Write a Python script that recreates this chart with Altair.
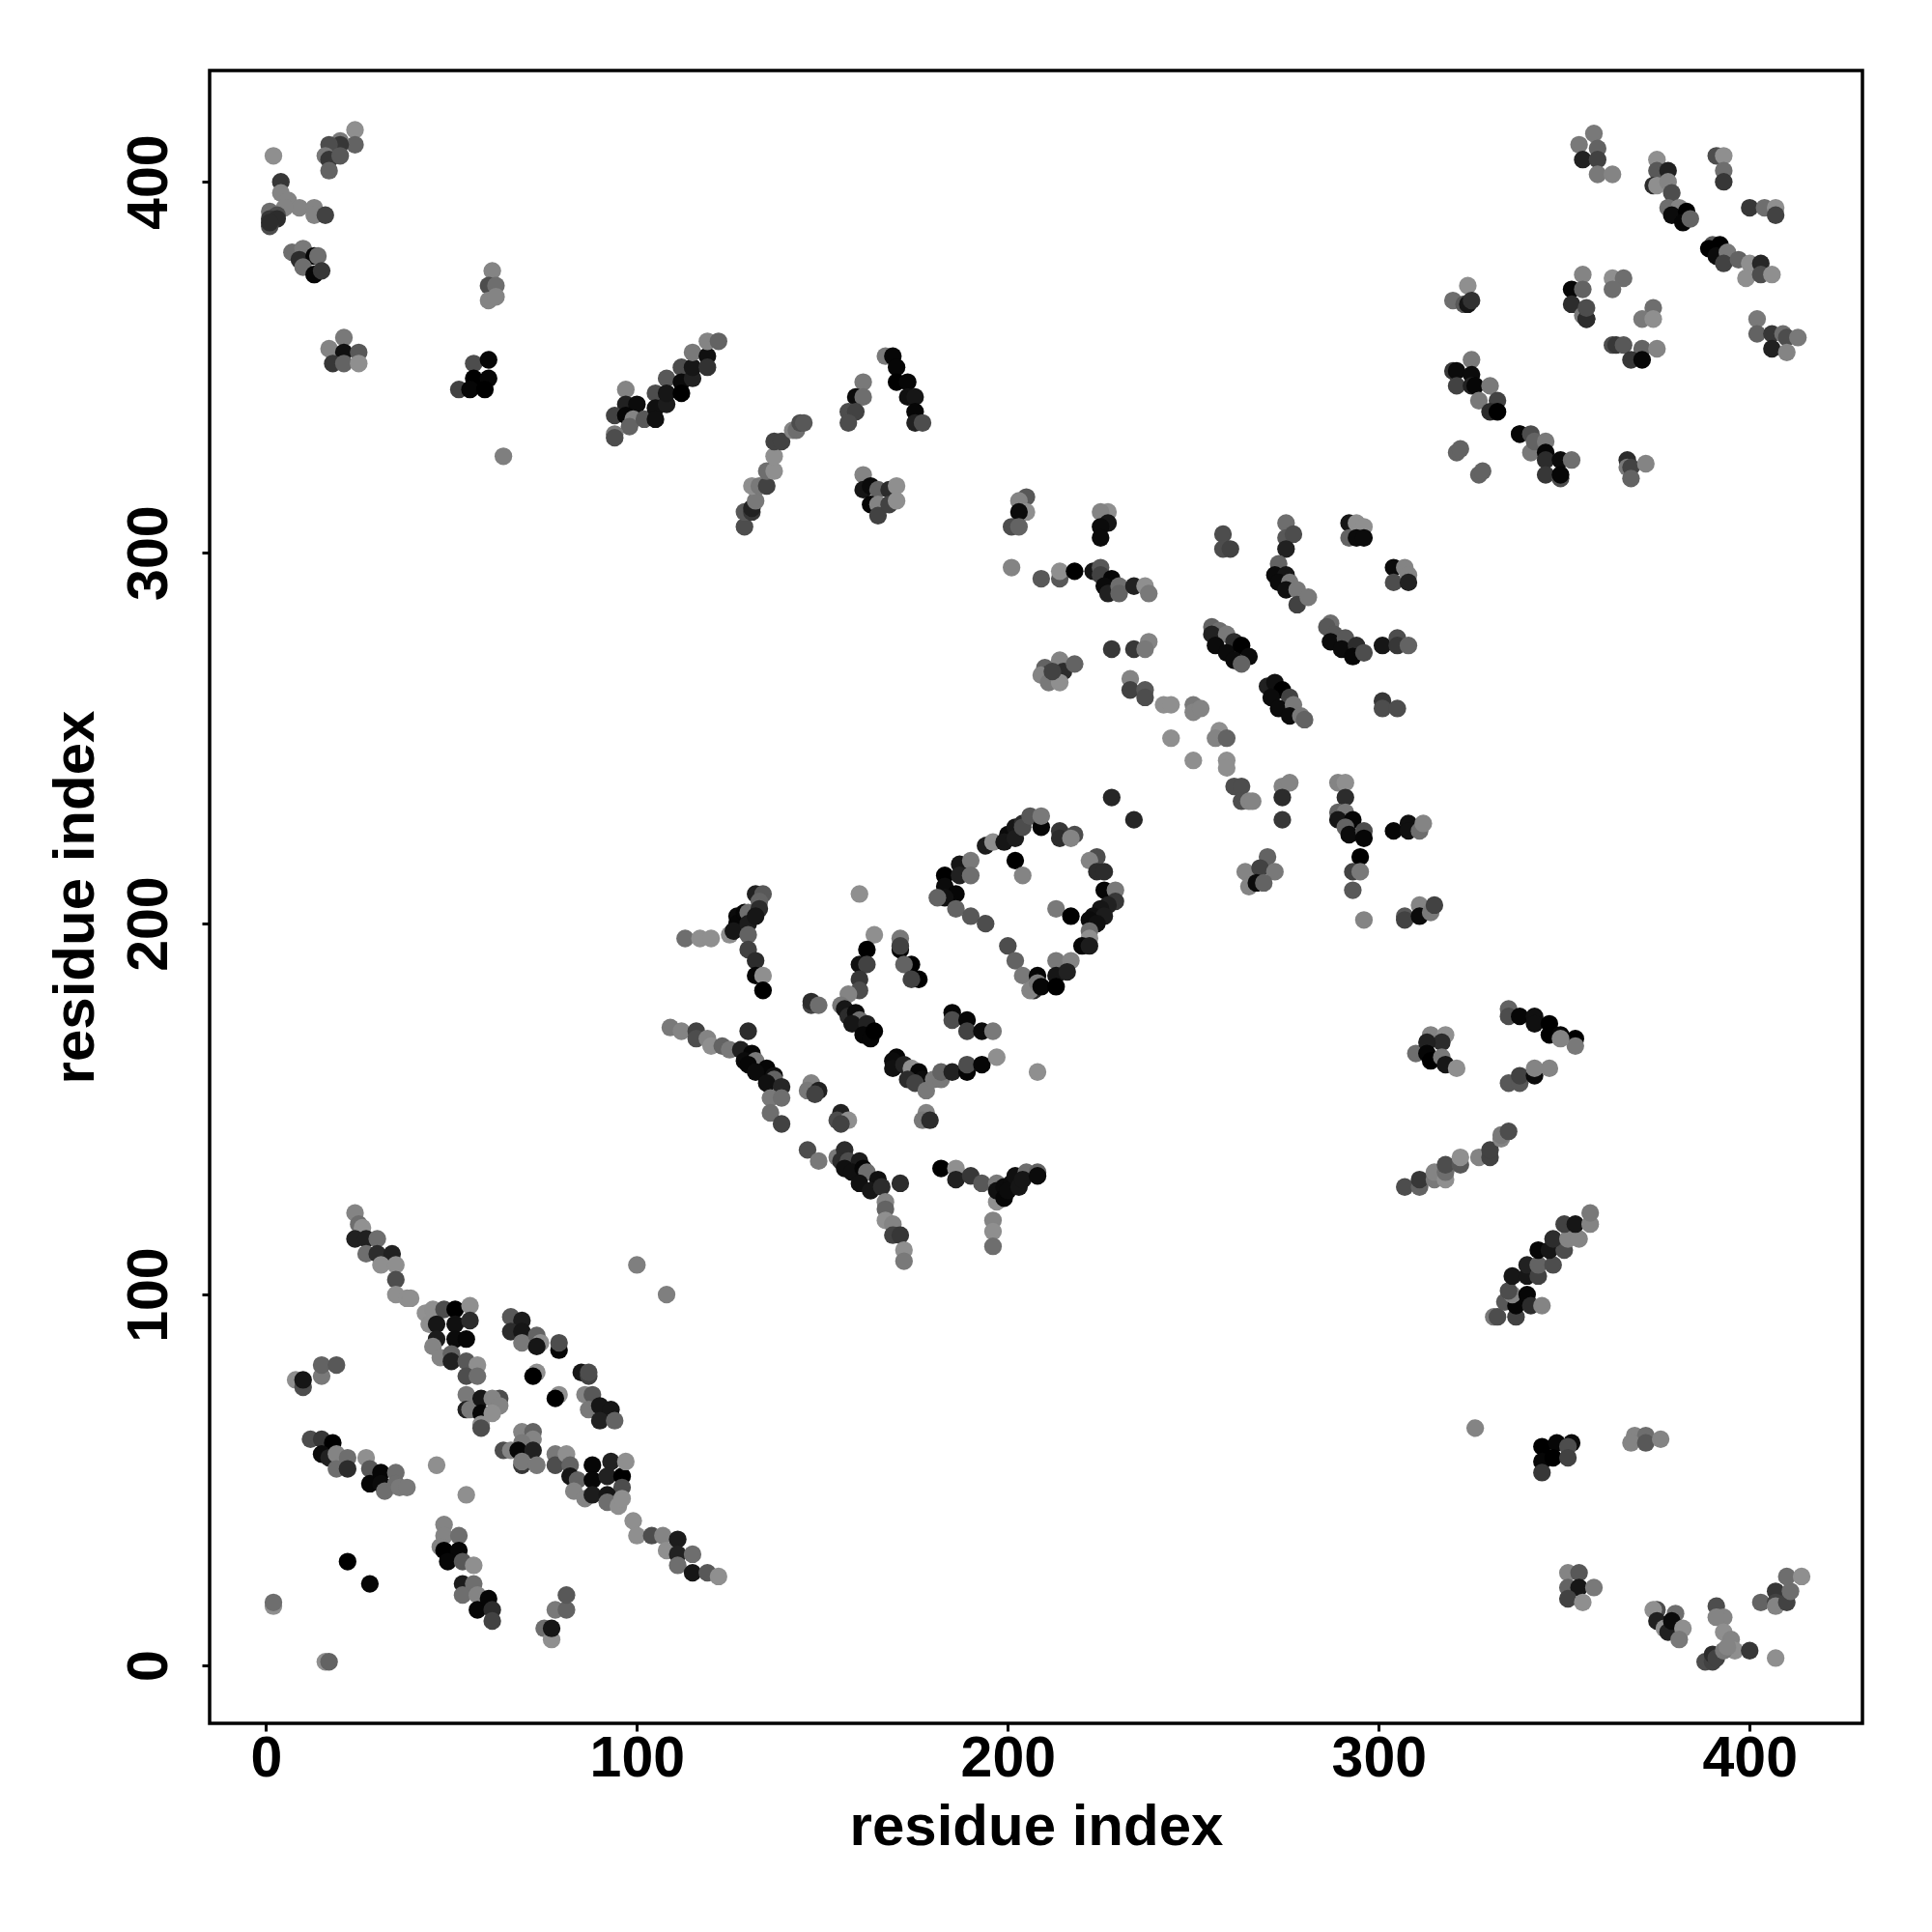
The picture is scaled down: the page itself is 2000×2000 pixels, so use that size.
import altair as alt
import pandas as pd

# every cluster: (residue x, residue y, grey level 0-255)
low_left_a = [(24,122,120),(25,119,100),(26,118,140),(24,115,30),(27,115,30),(30,115,100),(27,111,100),(30,111,40),(34,111,30),(31,108,130),(35,108,130),(35,104,70),(35,100,130),(38,99,130),(39,99,130)]
low_left_b = [(43,95,140),(44,92,130),(45,96,130),(48,96,70),(51,96,0),(55,97,130),(46,92,20),(51,92,15),(55,93,40),(46,88,25),(51,88,10),(54,88,5),(45,86,120),(47,83,120),(50,84,90),(50,82,30),(54,82,80),(57,81,130),(54,78,70),(57,78,100)]
low_left_c = [(54,73,110),(54,69,30),(55,69,110),(58,72,20),(58,68,5),(58,65,130),(58,64,70),(63,72,70),(61,72,120),(63,70,120),(61,68,130)]
low_left_d = [(64,58,70),(66,58,120),(69,63,120),(72,63,90),(72,61,120),(69,60,110),(68,58,5),(72,58,30),(69,54,50),(69,55,110),(73,54,110)]
low_left_e = [(78,57,110),(78,54,70),(81,57,130),(82,54,90),(82,51,20),(84,50,90),(83,47,120),(86,45,120),(88,54,5),(88,50,5),(88,46,25),(93,55,30),(92,51,30),(96,51,0),(97,55,130),(96,48,70),(92,46,20),(92,44,100),(95,43,130),(96,45,130)]
low_left_f = [(99,39,130),(100,35,130),(104,35,70),(107,35,120),(108,31,130),(111,34,25),(111,30,30),(111,27,100),(115,30,100),(115,25,20),(119,25,80),(122,24,130)]
low_left_g = [(8,77,130),(10,75,70),(10,77,20),(15,78,110),(15,81,90),(19,81,80)]
low_left_h = [(12,61,70),(15,61,50),(18,60,0),(15,57,10),(17,56,30),(19,57,120),(19,53,100),(22,56,100),(22,53,40),(27,56,130),(28,53,80),(28,49,5),(31,52,5),(31,49,10),(32,47,100),(35,52,100),(35,49,100),(36,48,110),(38,48,110),(46,54,130),(54,46,130)]
low_left_i = [(48,38,120),(48,35,120),(52,35,100),(47,32,120),(48,31,0),(52,31,5),(49,28,5),(53,28,80),(56,27,130),(53,22,25),(53,19,100),(56,22,100),(57,19,120),(57,15,5),(60,18,5),(61,15,40),(61,12,60)]
low_left_j = [(75,10,100),(77,7,130),(77,10,20),(78,15,110),(81,15,90),(81,19,80),(22,28,0),(28,22,5),(2,16,130),(2,17,100),(16,1,130),(17,1,90),(100,108,115),(108,100,115)]
low_left_k = [(66,94,80),(69,93,25),(66,90,40),(69,90,20),(69,87,110),(73,89,90),(74,87,130),(73,86,20),(79,85,5),(79,87,70),(73,79,130),(72,78,0),(79,73,130),(78,72,0),(85,79,20),(87,78,60),(87,79,70),(86,73,120),(88,73,80),(87,69,110),(90,70,20),(93,69,20),(90,66,30),(94,66,90)]

mid_a = [(113,196,100),(117,196,130),(120,196,130),(125,197,130),(127,202,10),(127,200,5),(129,203,5),(126,198,20),(130,203,100),(130,200,25),(130,197,90),(132,208,30),(134,208,80),(133,206,90),(133,204,40),(132,202,20),(130,193,60),(132,190,40),(132,186,5),(134,186,130),(134,182,0)]
mid_b = [(160,208,130),(164,197,130),(171,196,110),(162,193,0),(160,189,15),(162,189,60),(160,185,50),(160,182,70),(157,181,120),(171,193,5),(171,194,60),(174,189,0),(172,189,90),(176,185,0),(174,185,60)]
mid_c = [(147,178,60),(147,179,40),(149,178,100),(155,178,110),(156,177,20),(157,175,40),(159,176,10),(160,174,100),(158,173,20),(162,173,30),(161,170,5),(163,169,5),(164,171,0),(185,176,5),(185,174,70),(189,174,5),(189,171,60),(193,171,10),(196,171,110)]
mid_d = [(170,164,5),(169,163,10),(169,161,15),(172,162,30),(174,161,130),(176,160,5),(173,158,40),(177,158,10),(175,157,60),(178,155,110),(180,158,110),(182,158,110),(182,160,90),(185,160,30),(189,160,5),(189,162,70),(193,162,5),(197,164,130),(208,160,130)]
mid_e = [(109,172,110),(112,171,120),(116,171,60),(116,169,70),(119,169,120),(120,167,130),(123,167,90),(125,166,110),(130,171,40),(128,166,30),(131,165,5),(129,163,10),(132,163,110),(130,162,5),(135,161,5),(132,160,10),(137,159,15),(137,158,90),(135,157,15),(139,156,35),(136,153,110),(139,153,100),(136,149,100),(139,146,60),(147,157,120),(146,155,110),(149,155,30),(148,154,60)]
mid_f = [(155,149,30),(154,147,70),(157,147,130),(155,146,60),(178,149,120),(177,147,110),(179,147,40),(146,139,70),(149,136,110),(154,137,110),(156,139,40),(155,136,40),(157,136,70),(156,134,15),(160,136,25),(158,133,15),(161,134,5),(162,133,100),(160,130,15),(165,131,15),(163,128,20),(166,129,40),(167,125,120),(167,123,90),(167,120,130),(169,119,120),(171,130,40),(169,116,60),(171,116,50),(172,112,130),(172,109,110)]
mid_g = [(182,134,0),(186,134,130),(186,131,30),(190,132,50),(193,130,80),(197,130,110),(197,125,130),(197,128,15),(199,129,10),(199,126,5),(201,130,10),(200,128,10),(202,132,15),(203,129,20),(205,133,100),(204,131,20),(208,133,90),(208,132,10),(196,120,120),(196,117,130),(196,113,100)]
ring_top = [(228,234,35),(234,228,35),(194,221,25),(196,222,130),(200,224,10),(199,222,20),(202,226,20),(202,223,25),(204,227,40),(204,226,70),(206,229,80),(209,226,5),(209,229,110),(214,225,50),(214,223,40),(218,224,70),(217,223,120),(202,217,0),(204,213,120),(224,218,70),(222,217,120),(224,214,40),(226,214,40)]
ring_right = [(213,204,110),(217,202,0),(226,209,5),(229,209,110),(229,206,50),(227,205,30),(225,204,20),(223,202,15),(226,202,25),(222,201,10),(224,200,15),(222,198,100),(222,196,130),(220,194,5),(222,194,25)]
ring_left = [(183,213,0),(183,210,10),(187,216,20),(187,213,30),(190,217,110),(190,213,100),(186,208,5),(183,207,15),(181,207,90),(186,204,90),(190,202,80),(194,200,70)]
ring_low = [(200,194,70),(202,190,90),(204,186,110),(208,186,5),(207,182,40),(206,182,120),(208,184,110),(209,183,5),(213,190,110),(217,190,120),(213,186,20),(216,187,30),(213,183,0)]

up_a = [(205,315,80),(203,314,120),(205,311,130),(203,311,10),(201,307,70),(203,307,90),(201,296,120),(209,293,80),(214,293,80),(214,295,130),(218,295,0),(227,311,130),(225,311,120),(227,308,20),(225,307,10),(225,304,10)]
up_b = [(223,295,20),(225,296,80),(225,294,60),(228,293,5),(226,291,10),(227,289,30),(230,291,100),(230,289,90),(234,291,30),(237,291,130),(238,289,110)]
up_c = [(258,305,70),(258,301,70),(260,301,60),(275,308,100),(275,304,80),(277,305,70),(275,301,30),(273,297,90),(272,294,10),(275,294,20),(273,292,10),(276,292,110),(275,290,15),(278,290,110),(278,286,60),(281,288,110)]
up_d = [(292,308,20),(292,304,90),(294,308,130),(296,307,130),(294,304,10),(296,304,10),(304,296,10),(304,292,70),(307,296,120),(308,294,120),(308,292,30)]
up_e = [(255,280,90),(257,279,100),(255,278,30),(259,278,110),(256,275,10),(261,276,40),(259,273,10),(263,275,0),(261,271,10),(265,272,10),(263,270,90)]
up_f = [(287,281,100),(286,280,80),(288,278,80),(287,276,10),(291,277,80),(290,274,10),(294,275,40),(293,272,5),(296,273,70),(301,275,20),(305,277,70),(305,275,50),(308,275,90)]
up_g = [(214,271,120),(210,269,90),(215,268,40),(218,270,90),(210,267,10),(209,267,120),(211,265,110),(214,265,130),(212,268,60),(228,274,50),(234,274,50),(238,276,120),(237,274,110)]
up_h = [(233,266,120),(233,263,60),(237,263,80),(237,261,70),(242,259,130),(244,259,130),(250,259,110),(250,257,120),(252,258,120),(270,264,30),(272,265,15),(274,263,0),(271,261,10),(276,261,60),(273,258,10),(277,259,110),(276,256,10),(279,256,110),(280,255,90),(301,260,50),(301,258,70),(305,258,70)]
up_i = [(244,250,130),(257,252,130),(256,250,120),(259,250,90),(250,244,130),(259,244,130),(259,242,130),(261,237,70),(263,237,70),(263,233,70),(265,233,120),(266,233,120),(274,237,120),(276,238,120),(274,234,40),(274,228,50)]
up_j = [(289,238,120),(291,238,130),(291,234,40),(289,230,90),(291,230,110),(289,228,20),(293,228,5),(291,226,90),(292,224,10),(296,225,70),(296,223,5),(295,218,0),(293,214,60),(295,214,110),(293,209,80),(296,201,120)]
up_k = [(304,225,5),(308,227,15),(308,225,15),(311,225,100),(312,227,120),(270,218,90),(264,214,120),(268,215,60),(272,214,110),(265,210,120),(267,211,10),(269,211,90),(307,202,80),(307,201,60),(311,205,120),(311,202,10),(314,203,110),(315,205,60)]

top_right_a = [(358,413,110),(354,410,110),(359,409,90),(355,406,30),(359,406,60),(359,402,110),(363,402,120),(375,406,130),(375,403,80),(378,403,30),(374,399,40),(375,399,130),(378,400,120),(379,397,70),(378,393,100),(381,393,120),(379,391,10),(383,392,0),(382,389,5),(384,390,90)]
top_right_b = [(391,407,70),(393,407,130),(393,403,100),(393,400,50),(400,393,50),(404,393,100),(407,393,130),(407,391,60),(390,383,80),(389,382,0),(392,383,0),(391,380,10),(394,381,110),(393,378,60),(397,379,90),(400,378,130),(403,378,35),(399,374,130),(403,375,70),(406,375,130)]
top_right_c = [(355,375,120),(352,371,5),(355,371,90),(352,367,40),(355,364,110),(356,363,10),(356,363,40),(356,366,70),(363,374,130),(366,374,100),(363,371,100),(374,366,100),(371,363,110),(374,363,130),(402,363,110),(402,359,90),(406,359,50),(409,359,100),(410,358,70),(413,358,110),(406,355,30),(410,354,120)]
top_right_d = [(363,356,70),(364,356,50),(366,356,80),(371,355,90),(375,355,120),(368,352,50),(371,352,5),(324,372,130),(320,368,100),(323,367,80),(324,367,20),(325,368,45)]
top_right_e = [(325,352,110),(320,349,50),(321,349,10),(325,348,10),(321,345,60),(325,345,30),(326,345,5),(330,345,110),(327,341,110),(332,341,60),(330,338,40),(332,338,0)]
top_right_f = [(338,332,50),(338,332,5),(341,332,70),(341,327,110),(342,330,90),(345,330,110),(345,327,5),(345,325,40),(345,321,50),(349,325,10),(349,320,70),(349,321,5),(352,325,100),(321,327,90),(322,328,90),(327,321,90),(328,322,90),(367,325,40),(367,323,110),(368,323,60),(372,324,120),(368,320,90)]

top_left_a = [(2,407,130),(4,400,50),(4,397,120),(6,395,120),(9,393,120),(13,393,120),(13,391,120),(16,391,60),(1,392,100),(5,393,120),(3,391,70),(1,390,50),(3,390,40),(1,388,70),(1,389,40)]
top_left_b = [(24,414,130),(24,410,90),(20,411,110),(20,410,50),(17,410,70),(16,407,110),(17,406,50),(20,407,80),(17,403,90),(7,381,100),(10,382,110),(9,379,40),(13,380,5),(14,380,100),(10,377,100),(13,375,110),(13,375,5),(15,376,50)]
top_left_c = [(61,376,120),(60,372,70),(62,372,100),(60,368,120),(62,369,120),(21,358,110),(17,355,120),(21,354,15),(25,354,80),(18,351,50),(21,351,90),(25,351,130),(52,344,60),(56,351,70),(60,352,5),(56,347,0),(60,347,5),(55,344,5),(59,344,0),(64,326,115)]
top_mid_a = [(97,344,120),(97,340,30),(100,340,10),(94,337,60),(97,337,5),(99,336,120),(98,334,90),(94,332,110),(94,331,70),(102,336,80),(105,343,70),(105,339,15),(105,336,15),(108,340,25),(108,347,80),(108,343,20),(112,350,70),(112,346,10),(112,343,0),(115,347,30),(115,350,20),(115,354,110),(119,353,15),(119,350,45),(119,357,120),(122,357,90)]
top_mid_b = [(129,307,70),(129,311,80),(131,311,50),(131,312,30),(132,314,110),(131,318,130),(133,318,110),(135,318,60),(135,322,100),(137,322,130),(137,326,130),(137,330,60),(139,330,60),(142,333,120),(143,333,100),(144,335,70),(145,335,80)]
top_mid_c = [(161,346,110),(159,342,10),(161,342,100),(157,338,70),(159,338,60),(157,335,70),(167,353,110),(169,353,5),(170,350,5),(170,346,0),(173,346,5),(173,342,15),(175,342,20),(175,338,5),(175,335,30),(177,335,70)]
top_mid_d = [(161,321,120),(161,317,20),(163,318,10),(165,317,90),(163,313,5),(168,317,40),(165,313,120),(165,310,60),(168,313,60),(170,318,130),(170,314,130)]

low_right_a = [(314,170,120),(318,170,130),(317,168,40),(310,165,100),(313,168,30),(313,165,5),(314,163,0),(317,164,110),(318,162,20),(321,161,130),(335,177,90),(335,175,70),(338,175,5),(342,175,15),(342,173,15),(346,173,0),(346,170,0),(349,170,5),(353,169,0),(353,167,110),(349,169,120),(335,157,80),(338,157,80),(338,159,60),(342,159,10),(342,161,120),(346,161,120)]
low_right_b = [(307,129,70),(311,129,90),(311,131,50),(315,131,110),(315,133,120),(318,131,130),(318,133,100),(318,135,70),(322,135,80),(322,137,130),(327,137,120),(330,137,60),(330,139,60),(333,142,120),(333,143,110),(335,144,70)]
low_right_c = [(331,94,110),(332,94,70),(337,94,60),(334,98,80),(337,97,5),(336,100,120),(335,101,70),(340,100,5),(341,97,40),(344,97,120),(336,105,20),(340,105,20),(340,108,30),(343,105,60),(343,108,90),(347,108,70),(343,112,5),(346,112,20),(350,112,70),(347,115,40),(351,115,120),(354,115,120),(350,119,60),(353,119,20),(357,119,120),(357,122,110)]
low_right_d = [(326,64,120),(344,59,0),(348,60,5),(352,60,10),(351,59,70),(344,55,5),(347,56,0),(351,56,60),(344,52,50),(369,62,120),(372,62,100),(368,60,120),(372,60,80),(376,61,120),(351,25,120),(354,25,80),(351,21,90),(354,21,20),(358,21,110),(351,18,60),(355,17,130)]
low_right_e = [(375,15,70),(374,15,130),(375,12,30),(380,14,100),(377,10,130),(378,9,30),(379,12,10),(382,10,130),(381,7,110),(391,16,70),(393,13,120),(391,13,120),(393,9,130),(395,7,120),(396,4,130),(400,4,50),(407,2,130)]
low_right_f = [(388,1,70),(390,1,60),(390,3,40),(391,2,60),(393,4,110),(394,5,120),(403,17,90),(407,20,50),(407,17,60),(407,16,120),(410,17,60),(411,20,100),(410,24,100),(414,24,130)]

TICKS = [0, 100, 200, 300, 400]
AXIS_NAME = "residue index"

groups = [low_left_a, low_left_b, low_left_c, low_left_d, low_left_e, low_left_f, low_left_g, low_left_h, low_left_i, low_left_j, low_left_k,
          mid_a, mid_b, mid_c, mid_d, mid_e, mid_f, mid_g, ring_top, ring_right, ring_left, ring_low,
          up_a, up_b, up_c, up_d, up_e, up_f, up_g, up_h, up_i, up_j, up_k,
          top_right_a, top_right_b, top_right_c, top_right_d, top_right_e, top_right_f,
          top_left_a, top_left_b, top_left_c, top_mid_a, top_mid_b, top_mid_c, top_mid_d,
          low_right_a, low_right_b, low_right_c, low_right_d, low_right_e, low_right_f]
def grey(g):
    v = min(145, round(g * 1.1))
    return "#%02x%02x%02x" % (v, v, v)
rows = [{"x": x, "y": y, "c": grey(g)} for grp in groups for x, y, g in grp]
df = pd.DataFrame(rows)

FONT = "Liberation Sans"
def axis(**kw):
    return alt.Axis(values=TICKS, title=AXIS_NAME, grid=False, domain=False, ticks=True,
                    tickSize=8, tickWidth=3, tickColor="black", labelFont=FONT, labelFontSize=59,
                    labelFontWeight="bold", labelColor="black", titleFont=FONT, titleFontSize=60,
                    titleFontWeight="bold", titleColor="black", labelOverlap=False, labelFlush=False, **kw)

chart = (
    alt.Chart(df)
    .mark_circle(size=335, opacity=1)
    .encode(
        x=alt.X("x:Q", scale=alt.Scale(domain=[-15.2, 430.4], nice=False, zero=False), axis=axis(labelPadding=-1, titlePadding=12)),
        y=alt.Y("y:Q", scale=alt.Scale(domain=[-15.6, 430.0], nice=False, zero=False),
                axis=axis(labelAngle=270, labelPadding=25, titlePadding=16, labelAlign="center", labelBaseline="bottom")),
        color=alt.Color("c:N", scale=None),
    )
    .properties(width=1711, height=1711, background="white",
                autosize=alt.AutoSizeParams(type="none"),
                padding={"left": 209, "top": 65, "right": 60, "bottom": 200})
    .configure_view(stroke="black", strokeWidth=3.5)
)
chart.save("out.html", embed_options={"renderer": "svg", "actions": False})
